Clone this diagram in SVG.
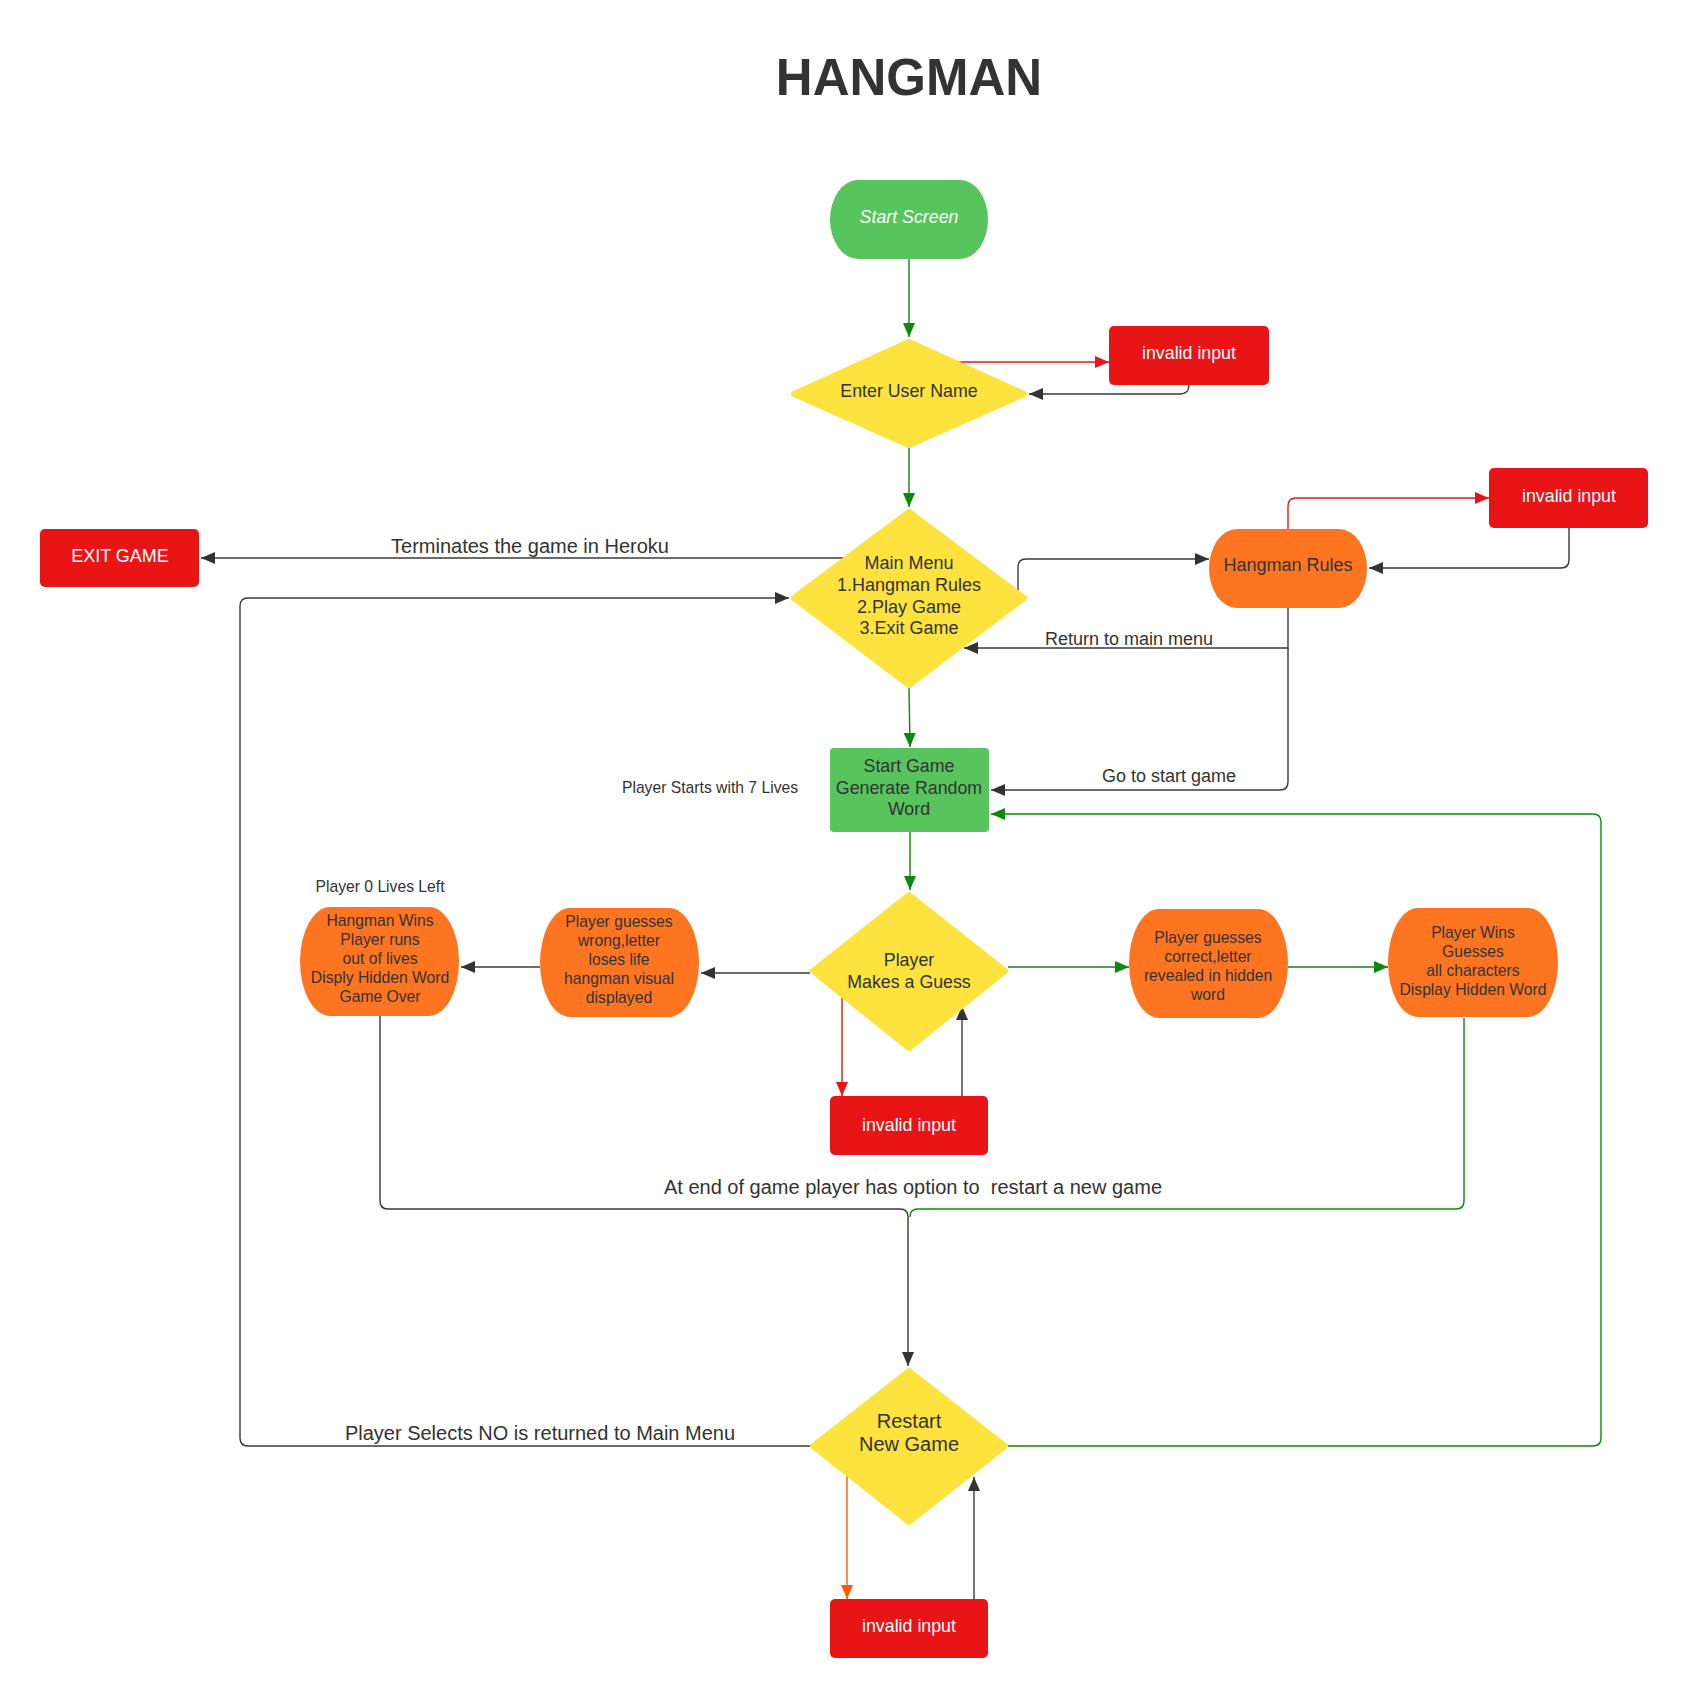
<svg xmlns="http://www.w3.org/2000/svg" width="1690" height="1700" viewBox="0 0 1690 1700">
<style>
text{font-family:"Liberation Sans",Arial,sans-serif;fill:#333333;text-anchor:middle}
.w{fill:#ffffff}
.c{fill:none;stroke-width:1.4}
.dk{stroke:#3a3a3a}
.gr{stroke:#0a8a0a}
.rd{stroke:#e81416}
.or{stroke:#ff5a00}
.red{fill:#e81416}
.yel{fill:#fee23e;stroke:#fee23e;stroke-width:6;stroke-linejoin:round}
.grn{fill:#57c45d}
.org{fill:#fd7521}
.lbl{font-size:20px}
.m{font-size:17.8px}
.s{font-size:15.7px}
</style>
<defs>
<marker id="aD" markerUnits="userSpaceOnUse" markerWidth="15" markerHeight="12" refX="14" refY="6" orient="auto"><path d="M0,0 L14,6 L0,12 z" fill="#333333"/></marker>
<marker id="aG" markerUnits="userSpaceOnUse" markerWidth="15" markerHeight="12" refX="14" refY="6" orient="auto"><path d="M0,0 L14,6 L0,12 z" fill="#0a8a0a"/></marker>
<marker id="aR" markerUnits="userSpaceOnUse" markerWidth="15" markerHeight="12" refX="14" refY="6" orient="auto"><path d="M0,0 L14,6 L0,12 z" fill="#e81416"/></marker>
<marker id="aO" markerUnits="userSpaceOnUse" markerWidth="15" markerHeight="12" refX="14" refY="6" orient="auto"><path d="M0,0 L14,6 L0,12 z" fill="#ff5a00"/></marker>
</defs>
<rect width="1690" height="1700" fill="#ffffff"/>
<text x="909" y="95" style="font-size:51px;font-weight:bold">HANGMAN</text>

<g id="connectors">
<path class="c gr" d="M909,259 L909,337" marker-end="url(#aG)"/>
<path class="c rd" d="M958,362 L1109,362" marker-end="url(#aR)"/>
<path class="c dk" d="M1189,385 Q1189,394 1180,394 L1029,394" marker-end="url(#aD)"/>
<path class="c gr" d="M909,448 L909,507" marker-end="url(#aG)"/>
<path class="c dk" d="M844,558 L201,558" marker-end="url(#aD)"/>
<path class="c dk" d="M1018,591 L1018,567 Q1018,559 1026,559 L1209,559" marker-end="url(#aD)"/>
<path class="c rd" d="M1288,529 L1288,506 Q1288,498 1296,498 L1489,498" marker-end="url(#aR)"/>
<path class="c dk" d="M1569,528 L1569,560 Q1569,568 1561,568 L1369,568" marker-end="url(#aD)"/>
<path class="c dk" d="M1288,608 L1288,648 L964,648" marker-end="url(#aD)"/>
<path class="c dk" d="M1288,648 L1288,782 Q1288,790 1280,790 L991,790" marker-end="url(#aD)"/>
<path class="c gr" d="M909,688 L910,747" marker-end="url(#aG)"/>
<path class="c gr" d="M910,832 L910,890" marker-end="url(#aG)"/>
<path class="c dk" d="M810,973 L701,973" marker-end="url(#aD)"/>
<path class="c dk" d="M540,967 L461,967" marker-end="url(#aD)"/>
<path class="c gr" d="M1008,967 L1129,967" marker-end="url(#aG)"/>
<path class="c gr" d="M1288,967 L1388,967" marker-end="url(#aG)"/>
<path class="c rd" d="M842,998 L842,1096" marker-end="url(#aR)"/>
<path class="c dk" d="M962,1096 L962,1006" marker-end="url(#aD)"/>
<path class="c dk" d="M380,1013 L380,1201 Q380,1209 388,1209 L900,1209 Q908,1209 908,1217 L908,1366" marker-end="url(#aD)"/>
<path class="c gr" d="M1464,1018 L1464,1201 Q1464,1209 1456,1209 L918,1209 Q910,1209 910,1217"/>
<path class="c dk" d="M810,1446 L248,1446 Q240,1446 240,1438 L240,606 Q240,598 248,598 L789,598" marker-end="url(#aD)"/>
<path class="c gr" d="M1008,1446 L1593,1446 Q1601,1446 1601,1438 L1601,822 Q1601,814 1593,814 L991,814" marker-end="url(#aG)"/>
<path class="c or" d="M847,1474 L847,1599" marker-end="url(#aO)"/>
<path class="c dk" d="M974,1599 L974,1477" marker-end="url(#aD)"/>
<text x="530" y="553" class="lbl">Terminates the game in Heroku</text>
<text x="1129" y="645" style="font-size:18px">Return to main menu</text>
<text x="1169" y="782" style="font-size:18px">Go to start game</text>
<text x="913" y="1194" class="lbl" xml:space="preserve">At end of game player has option to  restart a new game</text>
<text x="540" y="1440" class="lbl">Player Selects NO is returned to Main Menu</text>
<text x="710" y="793" class="s">Player Starts with 7 Lives</text>
<text x="380" y="892" class="s">Player 0 Lives Left</text>
</g>

<g id="start-screen">
<rect x="830" y="180" width="158" height="79" rx="28" ry="39.5" class="grn"/>
<text x="909" y="223" class="w m" style="font-style:italic">Start Screen</text>
</g>
<g id="enter-user-name">
<polygon points="909,342 1024,394 909,445 794,394" class="yel"/>
<text x="909" y="397" class="m">Enter User Name</text>
</g>
<g id="invalid-input-1">
<rect x="1109" y="326" width="160" height="59" rx="5" class="red"/>
<text x="1189" y="359" class="w m">invalid input</text>
</g>
<g id="main-menu">
<polygon points="909,512 1024,598 909,685 794,598" class="yel"/>
<text x="909" y="569" style="font-size:18px">Main Menu</text>
<text x="909" y="591" style="font-size:18px">1.Hangman Rules</text>
<text x="909" y="613" style="font-size:18px">2.Play Game</text>
<text x="909" y="634" style="font-size:18px">3.Exit Game</text>
</g>
<g id="exit-game">
<rect x="40" y="529" width="159" height="58" rx="5" class="red"/>
<text x="120" y="562" class="w" style="font-size:18px">EXIT GAME</text>
</g>
<g id="hangman-rules">
<rect x="1209" y="529" width="158" height="79" rx="28" ry="39.5" class="org"/>
<text x="1288" y="571" style="font-size:18px">Hangman Rules</text>
</g>
<g id="invalid-input-2">
<rect x="1489" y="468" width="159" height="60" rx="5" class="red"/>
<text x="1569" y="502" class="w m">invalid input</text>
</g>
<g id="start-game">
<rect x="830" y="748" width="159" height="84" rx="4" class="grn"/>
<text x="909" y="772" class="m">Start Game</text>
<text x="909" y="794" class="m">Generate Random</text>
<text x="909" y="815" class="m">Word</text>
</g>
<g id="player-makes-guess">
<polygon points="909,895 1005,971 909,1048 813,971" class="yel"/>
<text x="909" y="966" class="m">Player</text>
<text x="909" y="988" class="m">Makes a Guess</text>
</g>
<g id="player-guesses-wrong">
<rect x="540" y="908" width="159" height="109" rx="30" ry="54.5" class="org"/>
<text x="619" y="927" class="s">Player guesses</text>
<text x="619" y="946" class="s">wrong,letter</text>
<text x="619" y="965" class="s">loses life</text>
<text x="619" y="984" class="s">hangman visual</text>
<text x="619" y="1003" class="s">displayed</text>
</g>
<g id="hangman-wins">
<rect x="300" y="907" width="159" height="109" rx="30" ry="54.5" class="org"/>
<text x="380" y="926" class="s">Hangman Wins</text>
<text x="380" y="945" class="s">Player runs</text>
<text x="380" y="964" class="s">out of lives</text>
<text x="380" y="983" class="s">Disply Hidden Word</text>
<text x="380" y="1002" class="s">Game Over</text>
</g>
<g id="player-guesses-correct">
<rect x="1129" y="909" width="159" height="109" rx="30" ry="54.5" class="org"/>
<text x="1208" y="943" class="s">Player guesses</text>
<text x="1208" y="962" class="s">correct,letter</text>
<text x="1208" y="981" class="s">revealed in hidden</text>
<text x="1208" y="1000" class="s">word</text>
</g>
<g id="player-wins">
<rect x="1388" y="908" width="170" height="109" rx="30" ry="54.5" class="org"/>
<text x="1473" y="938" class="s">Player Wins</text>
<text x="1473" y="957" class="s">Guesses</text>
<text x="1473" y="976" class="s">all characters</text>
<text x="1473" y="995" class="s">Display Hidden Word</text>
</g>
<g id="invalid-input-3">
<rect x="830" y="1096" width="158" height="59" rx="5" class="red"/>
<text x="909" y="1131" class="w m">invalid input</text>
</g>
<g id="restart-new-game">
<polygon points="909,1371 1005,1446 909,1522 813,1446" class="yel"/>
<text x="909" y="1428" style="font-size:20px">Restart</text>
<text x="909" y="1451" style="font-size:20px">New Game</text>
</g>
<g id="invalid-input-4">
<rect x="830" y="1599" width="158" height="59" rx="5" class="red"/>
<text x="909" y="1632" class="w m">invalid input</text>
</g>
</svg>
